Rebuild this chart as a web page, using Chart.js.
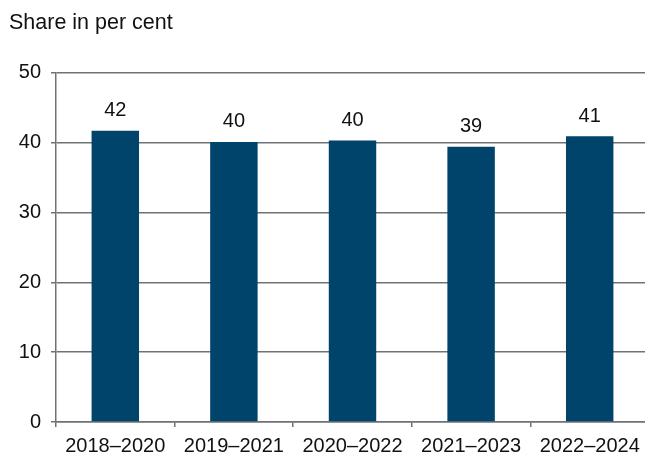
<!DOCTYPE html>
<html>
<head>
<meta charset="utf-8">
<script src="https://cdn.jsdelivr.net/npm/chart.js@4/dist/chart.umd.min.js"></script>
<style>
  html, body { margin: 0; padding: 0; background: #fff; overflow: hidden; }
  #wrap { width: 649px; height: 456px; }
</style>
</head>
<body>
<div id="wrap"><canvas id="chart"></canvas></div>
<script>
const periods = ['2018–2020', '2019–2021', '2020–2022', '2021–2023', '2022–2024'];
const shares = [41.7, 40.1, 40.3, 39.4, 40.9];
const yTicks = [0, 10, 20, 30, 40, 50];

const barColor = '#00436b';
const lineColor = '#6f7377';
const font = 'Liberation Sans, Arial, sans-serif';

// rounded value above each bar
const valueLabels = {
  id: 'valueLabels',
  afterDatasetsDraw(chart) {
    const ctx = chart.ctx;
    const meta = chart.getDatasetMeta(0);
    ctx.save();
    ctx.font = '20px ' + font;
    ctx.fillStyle = '#111';
    ctx.textAlign = 'center';
    ctx.textBaseline = 'bottom';
    meta.data.forEach((bar, i) => {
      ctx.fillText(Math.round(shares[i]), bar.x, bar.y - 10);
    });
    ctx.restore();
  }
};

new Chart(document.getElementById('chart'), {
  type: 'bar',
  data: {
    labels: periods,
    datasets: [{
      data: shares,
      backgroundColor: barColor,
      categoryPercentage: 1,
      barPercentage: 0.4
    }]
  },
  options: {
    responsive: true,
    maintainAspectRatio: false,
    animation: false,
    layout: { padding: { left: 9, right: 0, top: 0, bottom: 0 } },
    plugins: {
      legend: { display: false },
      tooltip: { enabled: false },
      title: {
        display: true,
        text: 'Share in per cent',
        align: 'start',
        color: '#111',
        font: { family: font, size: 21.5, weight: 'normal' },
        padding: { top: 10, bottom: 37 }
      }
    },
    scales: {
      x: {
        afterFit(scale) { scale.height = 34; },
        grid: { drawOnChartArea: false, drawTicks: true, tickLength: 5, color: lineColor, lineWidth: 1.5 },
        border: { color: lineColor, width: 1.5 },
        ticks: { color: '#111', padding: 7, font: { family: font, size: 20 } }
      },
      y: {
        min: 0,
        max: 50,
        afterBuildTicks(scale) {
          scale.ticks = yTicks.map(v => ({ value: v }));
        },
        afterFit(scale) { scale.width = 47; },
        grid: { color: lineColor, lineWidth: 1.5, tickLength: 5 },
        border: { color: lineColor, width: 1.5 },
        ticks: { color: '#111', padding: 10, font: { family: font, size: 20 } }
      }
    }
  },
  plugins: [valueLabels]
});
</script>
</body>
</html>
